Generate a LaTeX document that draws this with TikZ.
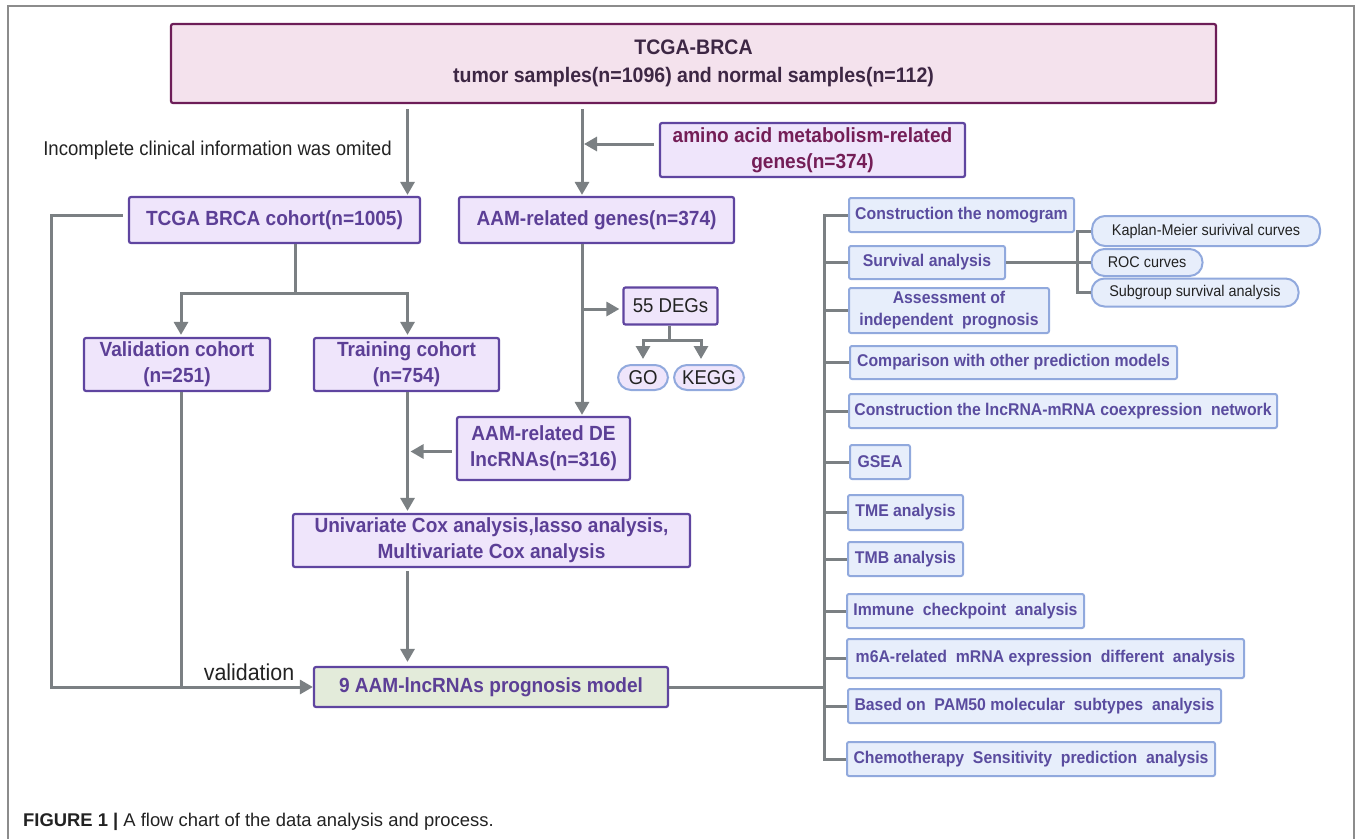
\documentclass[tikz,border=0pt]{standalone}
\usepackage{fontspec}
\setmainfont{Liberation Sans}
\newfontfamily\narrowsans[FakeStretch=0.93]{Liberation Sans}
\usetikzlibrary{arrows.meta}

\definecolor{linegray}{HTML}{7B8083}
\definecolor{framegray}{HTML}{8C8C8C}
\definecolor{topfill}{HTML}{F4E2ED}
\definecolor{topline}{HTML}{6D1D58}
\definecolor{toptext}{HTML}{3D2744}
\definecolor{lavfill}{HTML}{EFE5FB}
\definecolor{lavline}{HTML}{5F45A0}
\definecolor{lavtext}{HTML}{5C3F96}
\definecolor{aminotext}{HTML}{741E57}
\definecolor{modelfill}{HTML}{E3EBDA}
\definecolor{blufill}{HTML}{E7EEFB}
\definecolor{bluline}{HTML}{91A9DD}
\definecolor{blutext}{HTML}{5A4C9F}
\definecolor{plaintext}{HTML}{222222}

\begin{document}
\begin{tikzpicture}[x=1pt, y=-1pt,
  leftbox/.style={draw=lavline, fill=lavfill, text=lavtext, line width=2.2pt, rounded corners=2pt,
    align=center, inner sep=0pt, font=\narrowsans\bfseries\fontsize{20.5}{26}\selectfont},
  rightbox/.style={draw=bluline, fill=blufill, text=blutext, line width=2pt, rounded corners=2pt,
    align=center, inner sep=0pt, font=\narrowsans\bfseries\fontsize{17}{22}\selectfont},
  pill/.style={draw=bluline, fill=blufill, text=plaintext, line width=2pt, rounded corners=13pt,
    inner sep=0pt, font=\narrowsans\fontsize{15.5}{18}\selectfont},
  plain/.style={text=plaintext, inner sep=0pt, font=\narrowsans\fontsize{20}{24}\selectfont},
  link/.style={draw=linegray, line width=3pt},
  arr/.style={link, -{Triangle[length=13pt,width=14pt]}}]
\useasboundingbox (0,0) rectangle (1356,839);

% frame of the figure
\draw[framegray, line width=1.4pt] (8,839) -- (8,6) -- (1354,6) -- (1354,839);

% x positions of the long vertical lines
\coordinate (xo) at (51,0);
\coordinate (xv) at (181,0);
\coordinate (xt) at (407.5,0);
\coordinate (xm) at (582,0);
\coordinate (trunk) at (824,0);
\coordinate (xs) at (1077,0);
\coordinate (split) at (295,293);
\coordinate (dj) at (669,340);

% left and middle column
\node[leftbox, draw=topline, fill=topfill, text=toptext, minimum width=1045pt, minimum height=79pt,
  font=\narrowsans\bfseries\fontsize{21}{28}\selectfont] (top) at (693.5,63.5)
  {TCGA-BRCA\\tumor samples(n=1096) and normal samples(n=112)};
\node[plain] (omit) at (217.5,150) {Incomplete clinical information was omited};
\node[leftbox, text=aminotext, minimum width=305pt, minimum height=54pt] (amino) at (812.5,150)
  {amino acid metabolism-related\\genes(n=374)};
\node[leftbox, minimum width=291pt, minimum height=46pt] (cohort) at (274.5,220) {TCGA BRCA cohort(n=1005)};
\node[leftbox, minimum width=275pt, minimum height=46pt] (genes) at (596.5,220) {AAM-related genes(n=374)};
\node[leftbox, minimum width=186pt, minimum height=53pt] (valid) at (177,364.5) {Validation cohort\\(n=251)};
\node[leftbox, minimum width=185pt, minimum height=53pt] (train) at (406.5,364.5) {Training cohort\\(n=754)};
\node[leftbox, text=plaintext, minimum width=94pt, minimum height=37pt,
  font=\narrowsans\fontsize{20}{24}\selectfont] (degs) at (670.5,306) {55 DEGs};
\node[pill, fill=lavfill, minimum width=50pt, minimum height=25pt, font=\narrowsans\fontsize{20}{24}\selectfont] (go) at (643,377.5) {GO};
\node[pill, fill=lavfill, minimum width=70pt, minimum height=25pt, font=\narrowsans\fontsize{20}{24}\selectfont] (kegg) at (709,377.5) {KEGG};
\node[leftbox, minimum width=173pt, minimum height=63pt] (de) at (543.5,448.5) {AAM-related DE\\lncRNAs(n=316)};
\node[leftbox, minimum width=397pt, minimum height=53pt] (univ) at (491.5,540.5)
  {Univariate Cox analysis,lasso analysis,\\Multivariate Cox analysis};
\node[leftbox, fill=modelfill, minimum width=354pt, minimum height=40pt] (model) at (491,687) {9 AAM-lncRNAs prognosis model};
\node[plain, font=\narrowsans\fontsize{23}{26}\selectfont] (vlabel) at (249,672) {validation};

% right column
\node[rightbox, minimum width=225pt, minimum height=34pt] (nomo) at (961.5,215) {Construction the nomogram};
\node[rightbox, minimum width=156pt, minimum height=33pt] (surv) at (927,262.5) {Survival analysis};
\node[rightbox, minimum width=200pt, minimum height=45pt] (assess) at (949,310.5) {Assessment of\\independent\ \ prognosis};
\node[rightbox, minimum width=327pt, minimum height=33pt] (compare) at (1013.5,362.5) {Comparison with other prediction models};
\node[rightbox, minimum width=428pt, minimum height=34pt] (network) at (1063,411) {Construction the lncRNA-mRNA coexpression\ \ network};
\node[rightbox, minimum width=60pt, minimum height=34pt] (gsea) at (880,462) {GSEA};
\node[rightbox, minimum width=115pt, minimum height=35pt] (tme) at (905.5,512.5) {TME analysis};
\node[rightbox, minimum width=115pt, minimum height=34pt] (tmb) at (905.5,559) {TMB analysis};
\node[rightbox, minimum width=237pt, minimum height=34pt] (immune) at (965.5,611) {Immune\ \ checkpoint\ \ analysis};
\node[rightbox, minimum width=397pt, minimum height=39pt] (msixa) at (1045.5,658.5) {m6A-related\ \ mRNA expression\ \ different\ \ analysis};
\node[rightbox, minimum width=373pt, minimum height=34pt] (pam) at (1034.5,706) {Based on\ \ PAM50 molecular\ \ subtypes\ \ analysis};
\node[rightbox, minimum width=368pt, minimum height=34pt] (chemo) at (1031,759) {Chemotherapy\ \ Sensitivity\ \ prediction\ \ analysis};

\node[pill, minimum width=228pt, minimum height=30pt] (km) at (1206,231) {Kaplan-Meier surivival curves};
\node[pill, minimum width=111pt, minimum height=27pt] (roc) at (1147,262.5) {ROC curves};
\node[pill, minimum width=207pt, minimum height=28pt] (subgrp) at (1195,292.5) {Subgroup survival analysis};

% caption
\node[anchor=west, inner sep=0pt, text=plaintext, font=\fontsize{18.4}{20}\selectfont] (caption) at (23,822)
  {\textbf{FIGURE 1 |} A flow chart of the data analysis and process.};

% connectors of the left part
\draw[arr, shorten <=5pt, shorten >=1pt] (top.south -| xt) -- (cohort.north -| xt);
\draw[arr, shorten <=5pt, shorten >=1pt] (top.south -| xm) -- (genes.north -| xm);
\draw[arr, shorten <=5pt, shorten >=2pt] ([yshift=6pt]amino.west) -- ([yshift=6pt]amino.west -| xm);
\draw[link] (cohort.south -| split) -- (split);
\draw[arr, shorten >=2pt] (split) -| (xv |- valid.north);
\draw[arr, shorten >=2pt] (split) -| (xt |- train.north);
\draw[arr, shorten <=5pt] ([yshift=5pt]cohort.west) -| (xo |- model.west) -- (model.west);
\draw[link] (valid.south -| xv) -- (xv |- model.west);
\draw[arr, shorten >=2pt] (train.south -| xt) -- (univ.north -| xt);
\draw[arr, shorten <=3pt, shorten >=4pt] (univ.south -| xt) -- (model.north -| xt);
\draw[arr, shorten >=1pt] (genes.south -| xm) -- (de.north -| xm);
\draw[arr, shorten >=3pt] ([yshift=-3pt]degs.west -| xm) -- ([yshift=-3pt]degs.west);
\draw[link] (degs.south -| dj) -- (dj);
\draw[arr, shorten >=5pt] (dj) -| (go.north);
\draw[arr, shorten >=5pt] (dj) -| ([xshift=-8pt]kegg.north);
\draw[arr, shorten <=4pt, shorten >=3pt] ([yshift=-3pt]de.west) -- ([yshift=-3pt]de.west -| xt);

% connectors of the right part
\draw[link] (model.east) -- (model.east -| trunk);
\draw[link] (nomo.west) -| (trunk |- chemo.west) -- (chemo.west);
\foreach \b in {surv,assess,compare,network,gsea,tme,tmb,immune,msixa,pam}
  \draw[link] (\b.west -| trunk) -- (\b.west);
\draw[link] (surv.east) -- (surv.east -| xs);
\draw[link] (km.west) -| (xs |- subgrp.west) -- (subgrp.west);
\draw[link] (roc.west -| xs) -- (roc.west);
\end{tikzpicture}
\end{document}
